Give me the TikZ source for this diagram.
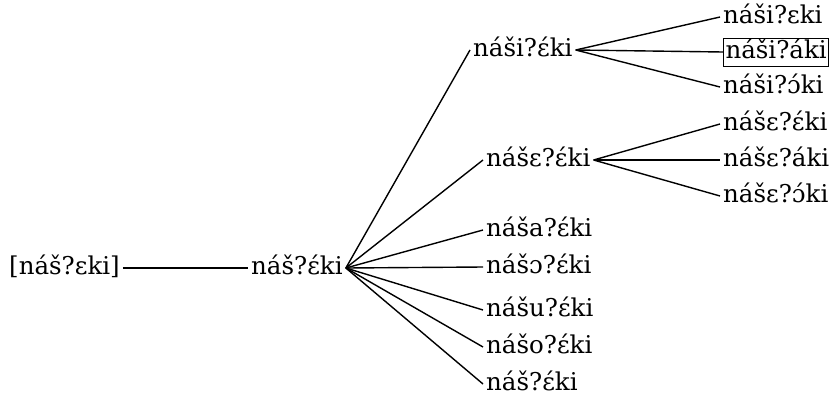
\documentclass[tikz,border=0pt]{standalone}
\usepackage{fontspec}
\setmainfont{DejaVu Serif}
\begin{document}
\begin{tikzpicture}[x=1pt,y=-1pt,
  form/.style={anchor=west,inner xsep=3pt,inner ysep=2pt,font=\fontsize{24.5}{27}\selectfont,text height=17pt,text depth=4pt},
  boxed/.style={form,draw,line width=1pt,inner xsep=2pt,inner ysep=3.5pt},
  br/.style={line width=1.4pt}]
\useasboundingbox (0,0) rectangle (837,402);
\node[form] (root) at (6,268) {[náš?ɛki]};
\node[form] (mid) at (248,268) {náš?ɛ́ki};
\node[form] (c1) at (470,50) {náši?ɛ́ki};
\node[form] (c2) at (483,160) {nášɛ?ɛ́ki};
\node[form] (c3) at (483,230) {náša?ɛ́ki};
\node[form] (c4) at (483,267) {nášɔ?ɛ́ki};
\node[form] (c5) at (483,310) {nášu?ɛ́ki};
\node[form] (c6) at (483,347) {nášo?ɛ́ki};
\node[form] (c7) at (483,384) {náš?ɛ́ki};
\node[form] (g1) at (720,17) {náši?ɛki};
\node[boxed] (g2) at (723,52) {náši?áki};
\node[form] (g3) at (720,87) {náši?ɔ́ki};
\node[form] (h1) at (720,124) {nášɛ?ɛ́ki};
\node[form] (h2) at (720,160) {nášɛ?áki};
\node[form] (h3) at (720,196) {nášɛ?ɔ́ki};
\draw[br] (root.east) -- (mid.west);
\foreach \c in {c1,c2,c3,c4,c5,c6,c7} \draw[br] (mid.east) -- (\c.west);
\foreach \c in {g1,g2,g3} \draw[br] (c1.east) -- (\c.west);
\foreach \c in {h1,h2,h3} \draw[br] (c2.east) -- (\c.west);
\end{tikzpicture}
\end{document}
